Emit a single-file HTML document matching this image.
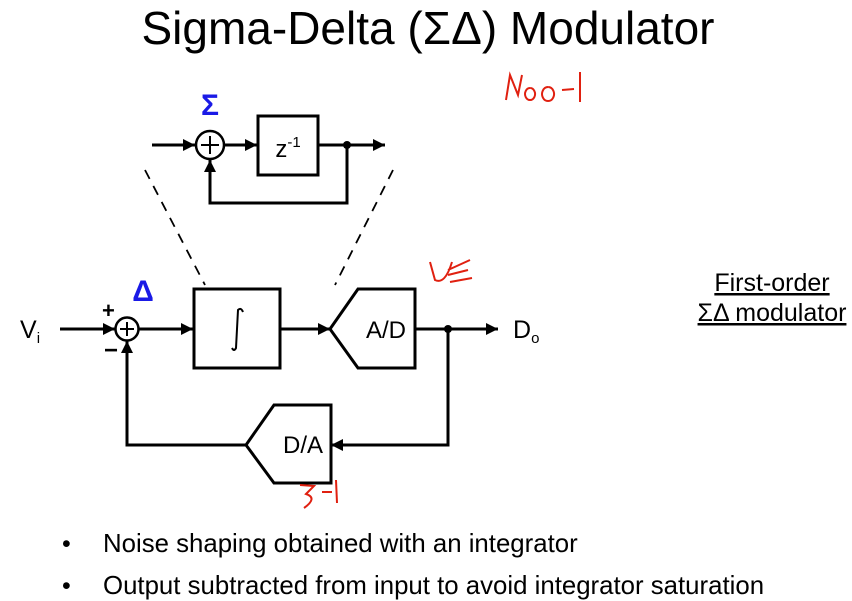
<!DOCTYPE html>
<html><head><meta charset="utf-8"><style>
body{margin:0;background:#fff;}
svg{display:block;font-family:"Liberation Sans",Arial,sans-serif;}
</style></head><body>
<svg width="852" height="601" viewBox="0 0 852 601" xmlns="http://www.w3.org/2000/svg">
<defs><marker id="a" viewBox="0 0 10 10" refX="10" refY="5" markerWidth="13" markerHeight="12" markerUnits="userSpaceOnUse" orient="auto"><path d="M0,0 L10,5 L0,10 z" fill="#000"/></marker></defs>
<text x="428" y="44" font-size="46" text-anchor="middle">Sigma-Delta (ΣΔ) Modulator</text>
<g stroke="#000" stroke-width="3" fill="none">
<line x1="152" y1="145" x2="195" y2="145" marker-end="url(#a)"/>
<circle cx="210" cy="145" r="14" stroke-width="2.5"/>
<line x1="201" y1="145" x2="219" y2="145" stroke-width="2"/><line x1="210" y1="136" x2="210" y2="154" stroke-width="2"/>
<line x1="224" y1="145" x2="257" y2="145" marker-end="url(#a)"/>
<rect x="258" y="116" width="60" height="59"/>
<line x1="318" y1="145" x2="385" y2="145" marker-end="url(#a)"/>
<polyline points="347,145 347,203 210,203 210,160" marker-end="url(#a)"/>
<line x1="145" y1="170" x2="205" y2="285" stroke-width="1.8" stroke-dasharray="10,8"/>
<line x1="393" y1="170" x2="335" y2="285" stroke-width="1.8" stroke-dasharray="10,8"/>
<line x1="60" y1="329" x2="115" y2="329" marker-end="url(#a)"/>
<circle cx="127" cy="329" r="11.5" stroke-width="2.5"/>
<line x1="120" y1="329" x2="134" y2="329" stroke-width="2"/><line x1="127" y1="322" x2="127" y2="336" stroke-width="2"/>
<line x1="139" y1="329" x2="193" y2="329" marker-end="url(#a)"/>
<rect x="194" y="289" width="86" height="79"/>
<line x1="280" y1="329" x2="330" y2="329" marker-end="url(#a)"/>
<polygon points="330,329 358,289 415,289 415,368 358,368"/>
<line x1="415" y1="329" x2="498" y2="329" marker-end="url(#a)"/>
<polyline points="448,329 448,445 331,445" marker-end="url(#a)"/>
<polygon points="246,445 274,405 331,405 331,483 274,483"/>
<polyline points="246,445 127,445 127,341" marker-end="url(#a)"/>
<path d="M243,312 Q241,307 238,310 L236,348 Q234,352 232,348" stroke-width="2"/>
</g>
<circle cx="347" cy="145" r="4" fill="#000"/>
<circle cx="448" cy="329" r="4" fill="#000"/>
<text x="210" y="115" font-size="30" font-weight="bold" fill="#1a1ae6" text-anchor="middle">Σ</text>
<text x="143" y="301" font-size="30" font-weight="bold" fill="#1a1ae6" text-anchor="middle">Δ</text>
<text x="288" y="157" font-size="24" text-anchor="middle">z<tspan font-size="15" dy="-10">-1</tspan></text>
<text x="386" y="338" font-size="24" text-anchor="middle">A/D</text>
<text x="303" y="453" font-size="24" text-anchor="middle">D/A</text>
<text x="20" y="338" font-size="25">V<tspan font-size="15" dy="5">i</tspan></text>
<text x="513" y="338" font-size="25">D<tspan font-size="15" dy="5">o</tspan></text>
<text x="102" y="318" font-size="22" font-weight="bold">+</text>
<text x="104" y="358" font-size="24" font-weight="bold">−</text>
<text x="772" y="291" font-size="25" text-anchor="middle" text-decoration="underline">First-order</text>
<text x="772" y="321" font-size="25" text-anchor="middle" text-decoration="underline">ΣΔ modulator</text>
<g fill="none" stroke="#e02010" stroke-width="2">
<path d="M506,100 L510,75 L518,95 L522,75 M530,88 a5,6 0 1,0 0.1,0 M548,87 a6,7 0 1,0 0.1,0 M562,90 L574,89 M580,72 L580,102"/>
<path d="M430,262 L435,280 Q445,285 452,262 M448,270 L470,260 M448,275 L468,270 M450,282 L472,278"/>
<path d="M300,485 L314,486 L306,494 Q318,498 304,508 M322,492 L332,492 M336,480 L337,503"/>
</g>
<text x="62" y="552" font-size="25">•</text>
<text x="103" y="552" font-size="25.8">Noise shaping obtained with an integrator</text>
<text x="62" y="594" font-size="25">•</text>
<text x="103" y="594" font-size="25.8">Output subtracted from input to avoid integrator saturation</text>
</svg>
</body></html>
